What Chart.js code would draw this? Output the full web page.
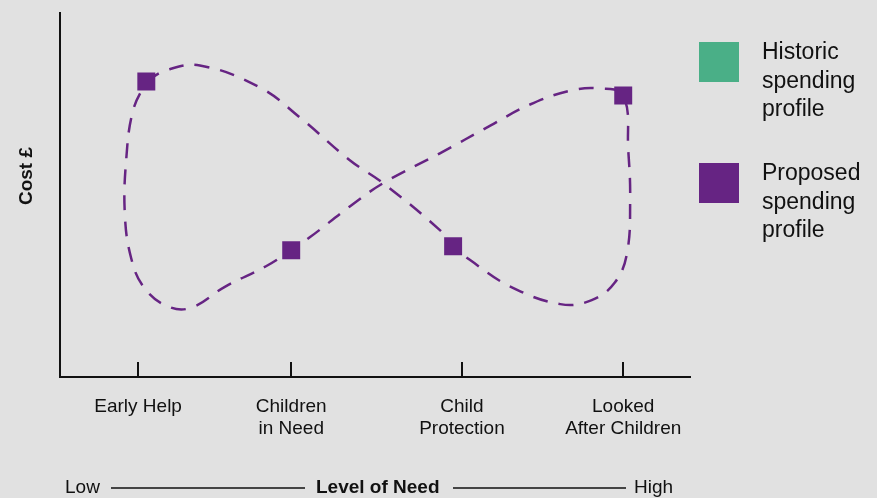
<!DOCTYPE html>
<html>
<head>
<meta charset="utf-8">
<script src="https://cdn.jsdelivr.net/npm/chart.js@4.4.1/dist/chart.umd.min.js"></script>
<style>
  html, body { margin: 0; padding: 0; background: #e1e1e1; }
  canvas { display: block; }
</style>
</head>
<body>
<canvas id="chart" width="877" height="498"></canvas>
<script>
// categories along the "level of need" axis and where they sit (0-100 scale)
const categories = ['Early Help', 'Children\nin Need', 'Child\nProtection', 'Looked\nAfter Children'];
const categoryPositions = [12.4, 36.7, 63.8, 89.4];

// proposed spending profile markers (need, cost)
const proposedNeed = [13.7, 36.7, 62.4, 89.4];
const proposedCost = [81.1, 34.8, 35.9, 77.3];

// dashed figure-eight path, in drawing order
const pathNeed = [13.7, 16.7, 22.2, 31.7, 38.1, 46.0, 51.3, 60.3, 62.4, 65.1, 71.4, 79.4, 84.4, 88.1, 90.0, 90.5, 90.2, 89.4,
  85.7, 81.0, 74.6, 68.3, 60.3, 51.3, 46.0, 39.7, 36.7, 32.7, 26.3, 20.6, 16.7, 13.2, 11.3, 10.3, 10.5, 11.6, 13.7];
const pathCost = [81.1, 84.1, 85.5, 79.5, 71.2, 59.5, 53.2, 40.3, 35.9, 32.1, 24.9, 20.0, 21.1, 26.0, 34.0, 48.5, 62.2, 77.3,
  79.2, 78.6, 74.8, 69.0, 61.4, 53.2, 46.8, 38.4, 34.8, 30.4, 24.9, 18.9, 19.7, 24.9, 32.6, 44.4, 59.5, 73.2, 81.1];

const seriesNames = ['Historic\nspending\nprofile', 'Proposed\nspending\nprofile'];

const GREEN = '#4aaf87';
const PURPLE = '#662483';
const INK = '#111111';

const extras = {
  id: 'extras',
  afterDraw(chart) {
    const { ctx, chartArea, scales } = chart;
    ctx.save();

    // short tick marks standing up from the x axis
    ctx.strokeStyle = INK;
    ctx.lineWidth = 2;
    ctx.beginPath();
    categoryPositions.forEach(v => {
      const px = Math.round(scales.x.getPixelForValue(v));
      ctx.moveTo(px, chartArea.bottom);
      ctx.lineTo(px, chartArea.bottom - 15);
    });
    ctx.stroke();

    // y title
    ctx.fillStyle = INK;
    ctx.save();
    ctx.translate(27, 176);
    ctx.rotate(-Math.PI / 2);
    ctx.font = 'bold 19px "Liberation Sans", Arial, sans-serif';
    ctx.textAlign = 'center';
    ctx.textBaseline = 'middle';
    ctx.fillText('Cost £', 0, 0);
    ctx.restore();

    // Low ---- Level of Need ---- High
    ctx.textBaseline = 'alphabetic';
    ctx.textAlign = 'left';
    ctx.font = '19px "Liberation Sans", Arial, sans-serif';
    ctx.fillText('Low', 65, 493);
    ctx.fillText('High', 634, 493);
    ctx.font = 'bold 19px "Liberation Sans", Arial, sans-serif';
    ctx.fillText('Level of Need', 316, 493);
    ctx.lineWidth = 1.5;
    ctx.beginPath();
    ctx.moveTo(111, 488); ctx.lineTo(305, 488);
    ctx.moveTo(453, 488); ctx.lineTo(626, 488);
    ctx.stroke();

    // legend
    const colors = [GREEN, PURPLE];
    const tops = [42, 163];
    ctx.font = '23px "Liberation Sans", Arial, sans-serif';
    seriesNames.forEach((name, i) => {
      ctx.fillStyle = colors[i];
      ctx.fillRect(699, tops[i], 40, 40);
      ctx.fillStyle = INK;
      name.split('\n').forEach((line, j) => {
        ctx.fillText(line, 762, tops[i] + 17 + j * 28.5);
      });
    });
    ctx.restore();
  }
};

new Chart(document.getElementById('chart'), {
  type: 'scatter',
  data: {
    datasets: [
      {
        label: seriesNames[1],
        data: proposedNeed.map((x, i) => ({ x, y: proposedCost[i] })),
        pointStyle: 'rect',
        pointRadius: 12.7,
        pointBorderWidth: 0,
        backgroundColor: PURPLE,
        borderColor: PURPLE,
        order: 0
      },
      {
        label: 'path',
        data: pathNeed.map((x, i) => ({ x, y: pathCost[i] })),
        showLine: true,
        pointRadius: 0,
        borderColor: PURPLE,
        borderWidth: 2.5,
        borderDash: [15, 11],
        tension: 0.4,
        fill: false,
        order: 1
      },
      {
        label: seriesNames[0],
        data: [],
        backgroundColor: GREEN,
        order: 2
      }
    ]
  },
  options: {
    responsive: false,
    devicePixelRatio: 1,
    animation: false,
    layout: { padding: { top: 12, right: 187, left: 0, bottom: 0 } },
    plugins: {
      legend: { display: false },
      tooltip: { enabled: false }
    },
    scales: {
      x: {
        type: 'linear',
        min: 0,
        max: 100,
        afterFit: s => { s.height = 121; },
        afterBuildTicks: s => { s.ticks = categoryPositions.map(v => ({ value: v })); },
        grid: { display: false, drawTicks: false },
        border: { display: true, color: INK, width: 2 },
        ticks: {
          autoSkip: false,
          maxRotation: 0,
          padding: 18,
          color: INK,
          font: { family: '"Liberation Sans", Arial, sans-serif', size: 19, lineHeight: 1.2 },
          callback: (v, i) => categories[i].split('\n')
        }
      },
      y: {
        type: 'linear',
        min: 0,
        max: 100,
        afterFit: s => { s.width = 60; },
        grid: { display: false, drawTicks: false },
        border: { display: true, color: INK, width: 2 },
        ticks: { display: false }
      }
    }
  },
  plugins: [extras]
});
</script>
</body>
</html>
